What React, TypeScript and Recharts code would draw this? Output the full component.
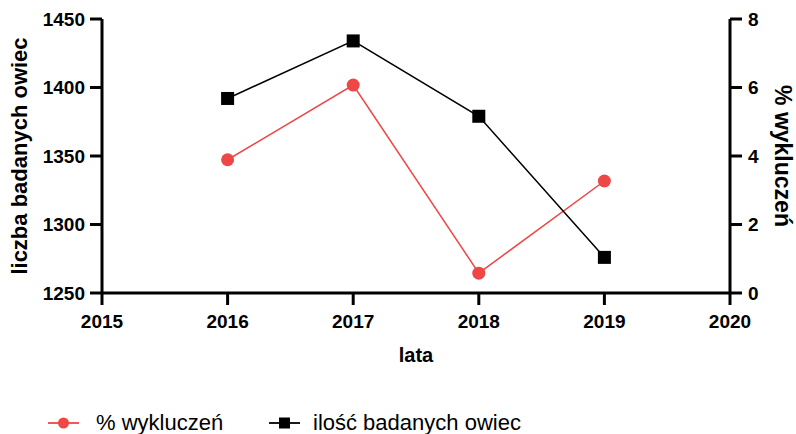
import React from 'react';
import { LineChart, Line, XAxis, YAxis, Legend } from 'recharts';

// Years of the survey
const years = [2016, 2017, 2018, 2019];
// Number of sheep examined (left axis)
const sheepCount = [1392, 1434, 1379, 1276];
// Percentage of excluded animals (right axis)
const excludedPct = [3.89, 6.07, 0.58, 3.27];

const xTicks = [2015, 2016, 2017, 2018, 2019, 2020];
const leftTicks = [1250, 1300, 1350, 1400, 1450];
const rightTicks = [0, 2, 4, 6, 8];

const RED = '#ef4646';
const BLACK = '#000000';
const FONT = '"Liberation Sans", Arial, Helvetica, sans-serif';

const data = years.map((year, i) => ({
  year,
  owce: sheepCount[i],
  wykluczenia: excludedPct[i],
}));

const SquareDot = (props: any) => {
  const { cx, cy, index } = props;
  if (cx == null || cy == null) return <g key={`sq-${index}`} />;
  return <rect key={`sq-${index}`} x={cx - 6.5} y={cy - 6.5} width={13} height={13} fill={BLACK} />;
};

const CircleDot = (props: any) => {
  const { cx, cy, index } = props;
  if (cx == null || cy == null) return <g key={`c-${index}`} />;
  return <circle key={`c-${index}`} cx={cx} cy={cy} r={6.5} fill={RED} />;
};

const itemLeft = [48, 269];

const LegendContent = (props: any) => {
  const { payload = [] } = props;
  return (
    <div style={{ position: 'relative', width: 796, height: 61, fontFamily: FONT }}>
      {payload.map((entry: any, i: number) => {
        const isRed = entry.dataKey === 'wykluczenia';
        return (
          <div
            key={entry.value}
            style={{
              position: 'absolute',
              left: itemLeft[i] ?? 0,
              top: 36,
              height: 28,
              display: 'flex',
              alignItems: 'center',
              whiteSpace: 'nowrap',
            }}
          >
            <svg width={31} height={16} style={{ marginRight: isRed ? 17 : 13 }}>
              <line x1={0} y1={8} x2={31} y2={8} stroke={entry.color} strokeWidth={1.8} />
              {isRed ? (
                <circle cx={15.5} cy={8} r={5.5} fill={entry.color} />
              ) : (
                <rect x={10} y={2.5} width={11} height={11} fill={entry.color} />
              )}
            </svg>
            <span style={{ fontSize: 22, color: '#000' }}>{entry.value}</span>
          </div>
        );
      })}
    </div>
  );
};

const tickStyle = { fill: '#000', fontSize: 19, fontWeight: 700, fontFamily: FONT };
const labelStyle = { fill: '#000', fontSize: 20, fontWeight: 700, fontFamily: FONT };

export default function App() {
  return (
    <div style={{ position: 'absolute', left: 0, top: 0, background: '#fff' }}>
      <LineChart
        width={796}
        height={434}
        data={data}
        margin={{ top: 19, right: 0, bottom: 0, left: 0 }}
        style={{ fontFamily: FONT }}
      >
        <XAxis
          dataKey="year"
          type="number"
          domain={[2015, 2020]}
          ticks={xTicks}
          height={80}
          tick={tickStyle}
          tickSize={12}
          tickMargin={10}
          axisLine={{ stroke: '#000', strokeWidth: 3 }}
          tickLine={{ stroke: '#000', strokeWidth: 3 }}
          label={{ value: 'lata', position: 'center', dy: 22, style: labelStyle }}
        />
        <YAxis
          yAxisId="left"
          orientation="left"
          domain={[1250, 1450]}
          ticks={leftTicks}
          width={102}
          tick={tickStyle}
          tickSize={12}
          tickMargin={5}
          axisLine={{ stroke: '#000', strokeWidth: 3 }}
          tickLine={{ stroke: '#000', strokeWidth: 3 }}
          label={{
            value: 'liczba badanych owiec',
            angle: -90,
            position: 'center',
            dx: -32,
            style: { ...labelStyle, fontSize: 22 },
          }}
        />
        <YAxis
          yAxisId="right"
          orientation="right"
          domain={[0, 8]}
          ticks={rightTicks}
          width={66}
          tick={tickStyle}
          tickSize={12}
          tickMargin={6}
          axisLine={{ stroke: '#000', strokeWidth: 3 }}
          tickLine={{ stroke: '#000', strokeWidth: 3 }}
          label={{
            value: '% wykluczeń',
            angle: 90,
            position: 'center',
            dx: 20,
            style: { ...labelStyle, fontSize: 23 },
          }}
        />
        <Legend verticalAlign="bottom" content={<LegendContent />} />
        <Line
          yAxisId="right"
          dataKey="wykluczenia"
          name="% wykluczeń"
          stroke={RED}
          strokeWidth={1.5}
          dot={CircleDot}
          activeDot={false}
          isAnimationActive={false}
        />
        <Line
          yAxisId="left"
          dataKey="owce"
          name="ilość badanych owiec"
          stroke={BLACK}
          strokeWidth={1.5}
          dot={SquareDot}
          activeDot={false}
          isAnimationActive={false}
        />
      </LineChart>
    </div>
  );
}
